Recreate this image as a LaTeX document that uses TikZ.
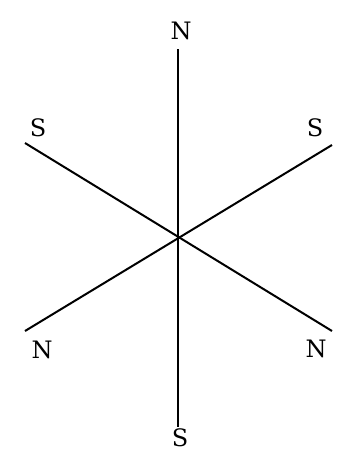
\documentclass[tikz,border=0pt]{standalone}
\usepackage{fontspec}
\setmainfont{DejaVu Serif}
\begin{document}
\begin{tikzpicture}[x=1pt,y=-1pt,
  pole/.style={font=\fontsize{24}{28}\selectfont, inner sep=0pt},
  axis/.style={line width=2pt, black}]
\useasboundingbox (0,0) rectangle (342,451);
\coordinate (c) at (178,238);
\coordinate (t) at (178,49);
\coordinate (b) at (178,427);
\coordinate (ul) at (25,143);
\coordinate (lr) at (332,331);
\coordinate (ur) at (332,145);
\coordinate (ll) at (25,331);
\draw[axis] (t) -- (b);
\draw[axis] (ul) -- (lr);
\draw[axis] (ur) -- (ll);
\node[pole] (n1) at (181,31) {N};
\node[pole] (s1) at (38,128) {S};
\node[pole] (s2) at (315,128) {S};
\node[pole] (n2) at (42,350) {N};
\node[pole] (n3) at (316,349) {N};
\node[pole] (s3) at (180,438) {S};
\end{tikzpicture}
\end{document}
